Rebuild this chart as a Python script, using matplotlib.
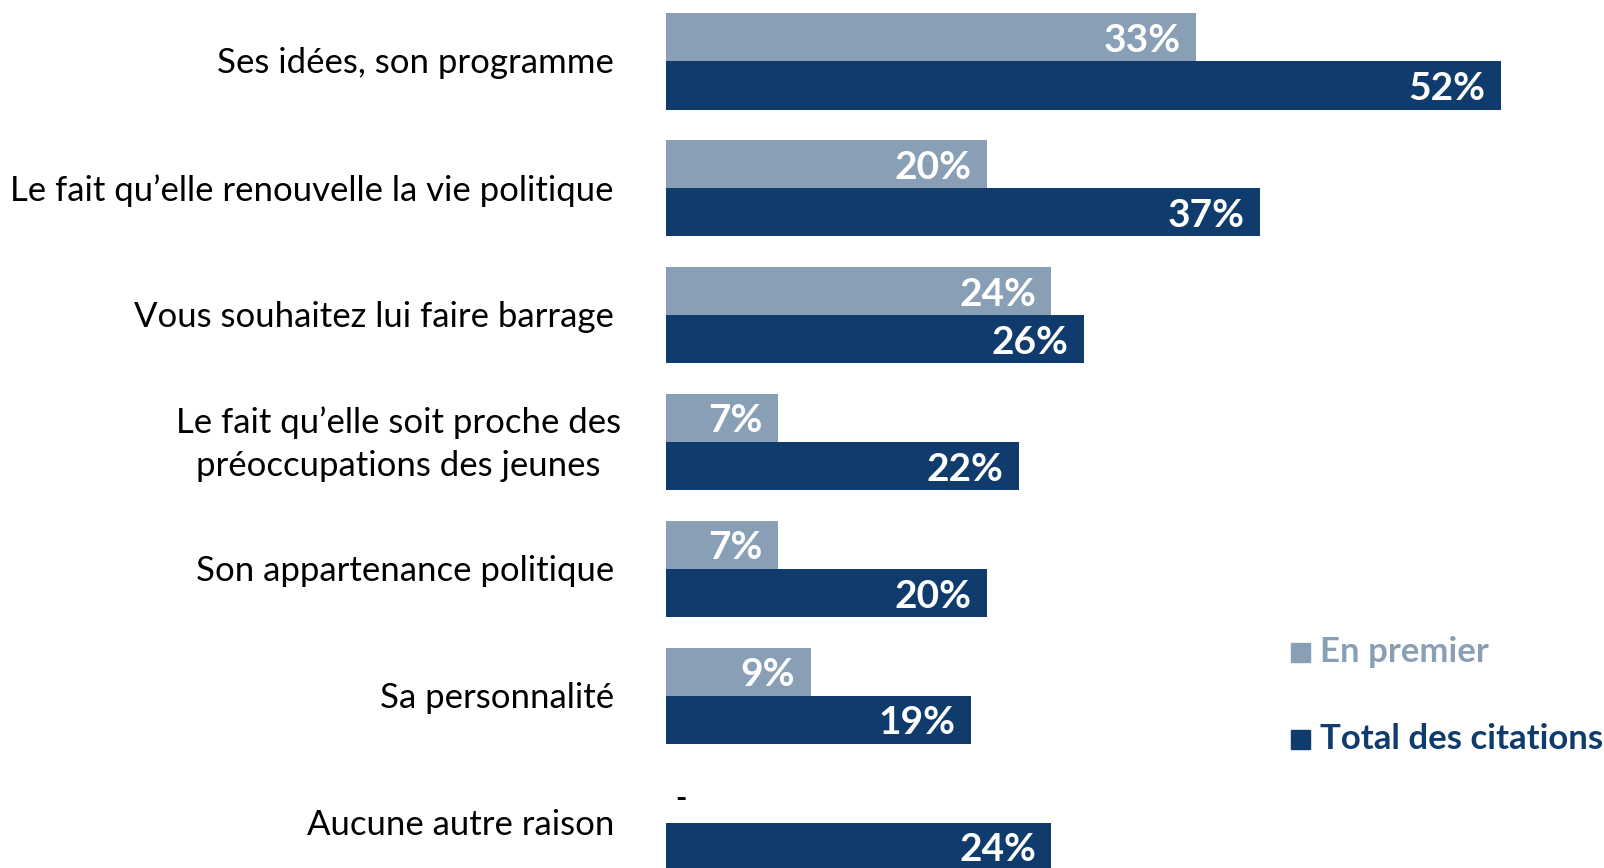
import matplotlib
matplotlib.use('Agg')
import matplotlib.pyplot as plt
from matplotlib.patches import Rectangle

categories = ['Ses idées, son programme',
              'Le fait qu’elle renouvelle la vie politique',
              'Vous souhaitez lui faire barrage',
              'Le fait qu’elle soit proche des\npréoccupations des jeunes',
              'Son appartenance politique',
              'Sa personnalité',
              'Aucune autre raison']
en_premier = [33, 20, 24, 7, 7, 9, None]
total_citations = [52, 37, 26, 22, 20, 19, 24]

light = '#889fb6'
dark = '#0f3c6c'
plt.rcParams['font.family'] = ['Lato', 'DejaVu Sans']

W, H = 1604, 868
fig = plt.figure(figsize=(W / 100, H / 100), dpi=100)
x0 = 666 / W
ax = fig.add_axes([x0, 0, 1 - x0, 1])
ppu = 16.06
ax.set_xlim(0, (W - 666) / ppu)
pitch = 126.9
top = 61.3
ax.set_ylim((H - top) / pitch, -top / pitch)
ax.axis('off')

h = 48.2 / pitch
ys = list(range(len(categories)))
ax.barh([y - h / 2 for y in ys], [v or 0 for v in en_premier], height=h, color=light)
ax.barh([y + h / 2 for y in ys], total_citations, height=h, color=dark)

off = 15.5 / ppu
dy = 3 / pitch
for y, v1, v2, cat in zip(ys, en_premier, total_citations, categories):
    if v1 is None:
        ax.text(0.6, y - h / 2, '-', ha='left', va='center', fontsize=22,
                fontweight='bold', color='black')
    else:
        ax.text(v1 - off, y - h / 2 + dy, f'{v1}%', ha='right', va='center',
                fontsize=28, fontweight='bold', color='white')
    ax.text(v2 - off, y + h / 2 + dy, f'{v2}%', ha='right', va='center',
            fontsize=28, fontweight='bold', color='white')
    xr = -45 / ppu if '\n' in cat else -52 / ppu
    ax.text(xr, y + 2 / pitch, cat, ha='right', va='center',
            multialignment='center', linespacing=1.45, fontsize=25, color='black')

# legend
for yp, label, col in [(652, 'En premier', light), (739, 'Total des citations', dark)]:
    fig.patches.append(Rectangle((1291 / W, 1 - (yp + 9.5) / H), 19 / W, 19 / H,
                                 transform=fig.transFigure, color=col))
    fig.text(1320 / W, 1 - yp / H, label, ha='left', va='center', fontsize=25,
             fontweight='bold', color=col)

fig.savefig('out.png', dpi=100)
